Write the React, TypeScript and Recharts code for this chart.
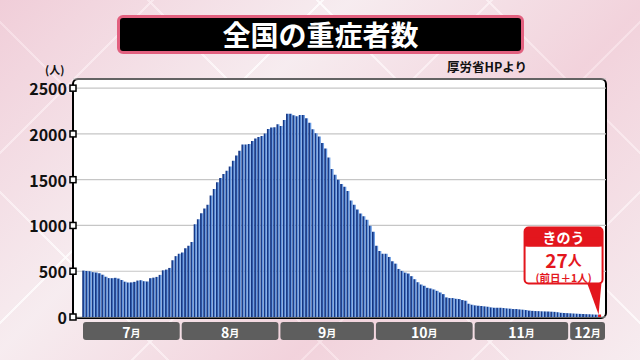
import React from "react";
import { BarChart, Bar, XAxis, YAxis, CartesianGrid, Cell, LabelList } from "recharts";

// 全国の重症者数 (7/1 - 12/10)
const MONTHS = ["7", "8", "9", "10", "11", "12"];
const JUL = [507, 503, 500, 490, 486, 478, 462, 440, 425, 424, 428, 420, 404, 386, 378, 378, 384, 398, 402, 391, 388, 424, 430, 438, 460, 510, 518, 536, 620, 665, 692];
const AUG = [705, 752, 779, 819, 1014, 1069, 1134, 1185, 1225, 1326, 1399, 1471, 1518, 1562, 1598, 1645, 1706, 1764, 1815, 1884, 1884, 1891, 1924, 1949, 1967, 1978, 2004, 2054, 2069, 2072, 2105];
const SEP = [2087, 2152, 2221, 2221, 2203, 2192, 2206, 2206, 2170, 2123, 2051, 2007, 1971, 1902, 1841, 1743, 1616, 1554, 1500, 1453, 1424, 1377, 1272, 1225, 1174, 1130, 1101, 1062, 996, 931];
const OCT = [779, 721, 692, 692, 656, 609, 583, 525, 504, 485, 475, 446, 413, 380, 355, 341, 319, 312, 301, 286, 268, 250, 214, 207, 207, 199, 196, 185, 178, 145, 134];
const NOV = [127, 123, 120, 116, 112, 105, 101, 101, 101, 98, 94, 91, 87, 87, 83, 80, 76, 70, 67, 65, 64, 62, 61, 60, 58, 56, 52, 46, 44, 42];
const DEC = [40, 38, 36, 34, 33, 31, 30, 28, 26, 27];
const SERIES = [JUL, AUG, SEP, OCT, NOV, DEC];
const Y_TICKS = [0, 500, 1000, 1500, 2000, 2500];

const data = MONTHS.flatMap((m, mi) =>
  SERIES[mi].map((v, d) => ({ date: `${m}/${d + 1}`, value: v }))
);
const MONTH_TICKS = MONTHS.map((m) => `${m}/1`);

const FONT = '"Noto Sans CJK JP", "Noto Sans", sans-serif';
const RED = "#e3161d";

// layout
const W = 640;
const H = 360;
const PLOT_LEFT = 73;
const PLOT_RIGHT = 606;
const PLOT_TOP = 79;
const PLOT_BOTTOM = 317;
const PAD_L = 9;
const PAD_R = 5;
const PITCH = (PLOT_RIGHT - PAD_R - PLOT_LEFT - PAD_L) / data.length;

const YTick = (props: any) => {
  const { y, payload } = props;
  return (
    <g>
      <rect x={PLOT_LEFT - 3} y={y - 3} width={6} height={6} fill="#fff" stroke="#000" strokeWidth={1.5} />
      <text
        x={PLOT_LEFT - 6}
        y={y}
        textAnchor="end"
        dominantBaseline="central"
        fontFamily={FONT}
        fontWeight={700}
        fontSize={16}
        fill="#111"
      >
        {payload.value}
      </text>
    </g>
  );
};

const MonthTick = (props: any) => {
  const { x, payload } = props;
  const mi = MONTH_TICKS.indexOf(payload.value);
  if (mi < 0) return null;
  const left = x - PITCH / 2 + 1;
  const width =
    mi === MONTHS.length - 1 ? PLOT_RIGHT - left - 1 : SERIES[mi].length * PITCH - 2;
  const top = PLOT_BOTTOM + 5;
  return (
    <g>
      <rect x={left} y={top} width={width} height={18} rx={3} fill="#5e5e5e" />
      <text
        x={left + width / 2}
        y={top + 10}
        textAnchor="middle"
        dominantBaseline="central"
        fontFamily={FONT}
        fontWeight={700}
        fill="#fff"
      >
        <tspan fontSize={14}>{MONTHS[mi]}</tspan>
        <tspan fontSize={10}>月</tspan>
      </text>
    </g>
  );
};

const Callout = (props: any) => {
  const { index } = props;
  if (index !== data.length - 1) return null;
  const cx = Number(props.x) + Number(props.width) / 2;
  const y = Number(props.y);
  const left = cx - 75;
  const top = y - 87;
  const bw = 78;
  const mid = left + bw / 2;
  return (
    <g>
      <polygon points={`${cx - 13},${y - 33} ${cx + 2},${y - 33} ${cx - 1},${y}`} fill={RED} />
      <rect x={left} y={top} width={bw} height={56} rx={4} fill="#fff" stroke={RED} strokeWidth={2} />
      <rect x={left} y={top} width={bw} height={19} rx={4} fill={RED} />
      <rect x={left} y={top + 10} width={bw} height={9} fill={RED} />
      <text x={mid} y={top + 9.5} textAnchor="middle" dominantBaseline="central" fontFamily={FONT} fontWeight={700} fontSize={14} fill="#fff">
        きのう
      </text>
      <text x={mid} y={top + 31} textAnchor="middle" dominantBaseline="central" fontFamily={FONT} fontWeight={700} fill={RED}>
        <tspan fontSize={19}>{props.value}</tspan>
        <tspan fontSize={14}>人</tspan>
      </text>
      <text x={mid} y={top + 49.5} textAnchor="middle" dominantBaseline="central" fontFamily={FONT} fontWeight={700} fontSize={10.5} fill={RED}>
        (前日＋1人)
      </text>
    </g>
  );
};

export default function App() {
  const last = data.length - 1;
  return (
    <div
      style={{
        position: "absolute",
        left: 0,
        top: 0,
        width: W,
        height: H,
        overflow: "hidden",
        fontFamily: FONT,
        backgroundColor: "#f3e4e9",
        backgroundImage:
          "linear-gradient(135deg, rgba(236,172,192,0.4) 0%, rgba(255,255,255,0.3) 35%, rgba(240,184,200,0.4) 65%, rgba(255,255,255,0.3) 100%)," +
          "repeating-linear-gradient(45deg, rgba(255,255,255,0) 0 118px, rgba(255,255,255,0.8) 118px 120px)," +
          "repeating-linear-gradient(-45deg, rgba(255,255,255,0) 0 118px, rgba(255,255,255,0.8) 118px 120px)",
      }}
    >
      {/* title */}
      <div
        style={{
          position: "absolute",
          left: 117,
          top: 15,
          width: 401,
          height: 33,
          background: "#000",
          border: "3px solid #e2607f",
          borderRadius: 6,
          color: "#fff",
          fontWeight: 700,
          fontSize: 28,
          lineHeight: "33px",
          textAlign: "center",
        }}
      >
        全国の重症者数
      </div>
      <div
        style={{
          position: "absolute",
          right: 113,
          top: 61,
          fontSize: 12.5,
          fontWeight: 700,
          lineHeight: 1,
          color: "#111",
        }}
      >
        厚労省HPより
      </div>
      <div
        style={{
          position: "absolute",
          left: 45,
          top: 64,
          fontSize: 11,
          fontWeight: 700,
          lineHeight: 1,
          color: "#111",
        }}
      >
        (人)
      </div>

      {/* plot frame */}
      <div
        style={{
          position: "absolute",
          left: PLOT_LEFT - 1,
          top: PLOT_TOP - 1,
          width: PLOT_RIGHT - PLOT_LEFT - 2,
          height: PLOT_BOTTOM - PLOT_TOP - 1,
          background: "#fff",
          border: "2px solid #000",
          borderRadius: 6,
        }}
      />

      <div style={{ position: "absolute", left: 0, top: 0 }}>
        <BarChart
          width={W}
          height={H}
          data={data}
          margin={{ top: PLOT_TOP, right: W - PLOT_RIGHT, bottom: 0, left: 0 }}
          barCategoryGap="8%"
        >
          <defs>
            <linearGradient id="barGrad" x1="0" y1="0" x2="1" y2="0">
              <stop offset="0" stopColor="#112f78" />
              <stop offset="0.45" stopColor="#1c4193" />
              <stop offset="0.6" stopColor="#5f92dc" />
              <stop offset="1" stopColor="#7aa8e8" />
            </linearGradient>
          </defs>
          <CartesianGrid vertical={false} stroke="#c6c6c6" strokeWidth={1.2} />
          <XAxis
            dataKey="date"
            ticks={MONTH_TICKS}
            interval={0}
            tick={<MonthTick />}
            tickLine={false}
            axisLine={false}
            height={H - PLOT_BOTTOM}
            padding={{ left: PAD_L, right: PAD_R }}
          />
          <YAxis
            domain={[0, 2600]}
            ticks={Y_TICKS}
            tick={<YTick />}
            tickLine={false}
            axisLine={false}
            width={PLOT_LEFT}
            allowDataOverflow
          />
          <Bar dataKey="value" isAnimationActive={false}>
            {data.map((_, i) => (
              <Cell key={i} fill={i === last ? RED : "url(#barGrad)"} />
            ))}
            <LabelList dataKey="value" content={<Callout />} />
          </Bar>
        </BarChart>
      </div>
    </div>
  );
}
